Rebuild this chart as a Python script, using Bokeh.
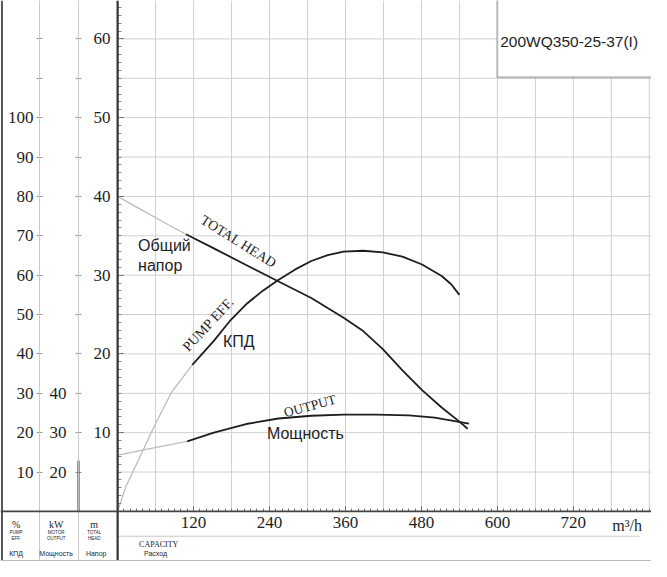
from bokeh.plotting import figure
from bokeh.models import Range1d, LinearAxis, FixedTicker, Span, Label, BoxAnnotation
from bokeh.embed import file_html
from bokeh.resources import INLINE
import math

# ---------------- data ----------------
head_q = [108, 152, 203, 252, 306, 357, 388, 419, 450, 481, 512, 540, 553]
head_m = [35.2, 33.4, 31.3, 29.3, 27.1, 24.6, 22.9, 20.6, 17.9, 15.4, 13.2, 11.4, 10.5]
head_ext_q = [0, 40, 80, 108]
head_ext_m = [40.0, 38.2, 36.4, 35.2]

eff_q = [118, 152, 177, 203, 229, 252, 280, 306, 332, 357, 388, 419, 450, 481, 512, 527, 540]
eff_pct = [37.2, 43.3, 48.3, 52.6, 56.0, 58.6, 61.4, 63.6, 65.1, 66.0, 66.2, 65.8, 64.7, 62.7, 59.8, 57.7, 55.0]
eff_ext_q = [0, 13, 41, 59, 85, 118]
eff_ext_pct = [0, 6.3, 15.8, 22.0, 30.2, 37.2]

out_q = [110, 152, 203, 254, 306, 357, 409, 460, 501, 537, 555]
out_kw = [27.8, 30.0, 32.2, 33.6, 34.3, 34.6, 34.6, 34.4, 33.8, 32.8, 32.3]
out_ext_q = [0, 55, 110]
out_ext_kw = [24.3, 26.1, 27.8]

q_labels = [120, 240, 360, 480, 600, 720]
q_minor = list(range(0, 841, 10))
head_labels = [10, 20, 30, 40, 50, 60]
head_minor = list(range(0, 65))
eff_labels = [10, 20, 30, 40, 50, 60, 70, 80, 90, 100]
eff_marks = [110, 120]
kw_labels = [20, 30, 40]
kw_marks = [50, 60, 70, 80, 90, 100, 110, 120, 130]
grid_q = list(range(60, 841, 60))
grid_head = list(range(5, 61, 5))
model_name = "200WQ350-25-37(I)"

# ---------------- layout ----------------
PX_Q = 0.6485      # ref px per m3/h
PX_H = 8.1         # ref px per m
X0 = -120 / PX_Q
X1 = (667 - 120) / PX_Q
Y0 = (525.5 - 577) / PX_H
Y1 = 525.5 / PX_H

def qx(px):
    return (px - 120) / PX_Q

def hy(py):
    return (525.5 - py) / PX_H

SERIF = "Liberation Serif"
SANS = "Liberation Sans"
DARK = "#1e1e1e"
GRID = "#cfcfcf"

p = figure(width=651, height=561, x_range=Range1d(X0, X1), y_range=Range1d(Y0, Y1),
           output_backend="svg", toolbar_location=None, min_border=0,
           x_axis_type=None, y_axis_type=None)
p.outline_line_color = None
p.background_fill_color = "white"
p.border_fill_color = "white"
p.extra_y_ranges = {
    "eff": Range1d(2 * Y0, 2 * Y1),
    "kw": Range1d(2 * Y0 + 10, 2 * Y1 + 10),
}

# grid lines
p.segment(x0=grid_q, y0=[0] * len(grid_q), x1=grid_q, y1=[Y1] * len(grid_q),
          line_color=GRID, line_width=1)
p.segment(x0=[0] * len(grid_head), y0=grid_head, x1=[X1] * len(grid_head), y1=grid_head,
          line_color=GRID, line_width=1)

# frame lines
for loc, w, c in [(qx(40), 1, "#c8c8c8"), (qx(80), 1, "#c8c8c8"), (0, 2.2, "#333333"), (qx(1.5), 2, "#555555")]:
    p.add_layout(Span(location=loc, dimension="height", line_color=c, line_width=w))
p.add_layout(Span(location=0, dimension="width", line_color="#444444", line_width=1.8))
p.add_layout(Span(location=hy(576), dimension="width", line_color="#bbbbbb", line_width=1))
p.segment(x0=[0], y0=[hy(551)], x1=[qx(655)], y1=[hy(551)], line_color="#c8c8c8", line_width=1)

# curves
FAINT = "#bdbdbd"
p.line(head_ext_q, head_ext_m, line_color=FAINT, line_width=1.3)
p.line(eff_ext_q, eff_ext_pct, line_color=FAINT, line_width=1.3, y_range_name="eff")
p.line(out_ext_q, out_ext_kw, line_color=FAINT, line_width=1.3, y_range_name="kw")
p.line(head_q, head_m, line_color=DARK, line_width=1.8, line_join="round")
p.line(eff_q, eff_pct, line_color=DARK, line_width=1.8, y_range_name="eff", line_join="round")
p.line(out_q, out_kw, line_color=DARK, line_width=1.8, y_range_name="kw", line_join="round")

def style_axis(ax, size="17px"):
    ax.major_label_text_font = SERIF
    ax.major_label_text_font_size = size
    ax.major_label_text_color = DARK
    ax.axis_line_color = None

# x axis
xa = LinearAxis(fixed_location=0, ticker=FixedTicker(ticks=q_labels, minor_ticks=q_minor))
style_axis(xa)
xa.major_tick_in = 5
xa.major_tick_out = 0
xa.minor_tick_in = 3
xa.minor_tick_out = 0
xa.major_tick_line_color = "#555555"
xa.minor_tick_line_color = "#777777"
xa.major_label_standoff = 6
p.add_layout(xa, "below")

# head axis
ha = LinearAxis(fixed_location=0, ticker=FixedTicker(ticks=head_labels, minor_ticks=head_minor))
style_axis(ha)
ha.major_tick_in = 6
ha.major_tick_out = 0
ha.minor_tick_in = 4
ha.minor_tick_out = 0
ha.major_tick_line_color = "#555555"
ha.minor_tick_line_color = "#888888"
ha.major_label_standoff = 7
p.add_layout(ha, "left")

# efficiency % axis
ea = LinearAxis(fixed_location=qx(40), y_range_name="eff",
                ticker=FixedTicker(ticks=eff_labels, minor_ticks=eff_marks))
style_axis(ea)
for a in ("major", "minor"):
    setattr(ea, a + "_tick_in", 3)
    setattr(ea, a + "_tick_out", 3)
    setattr(ea, a + "_tick_line_color", "#999999")
ea.major_label_standoff = 3
p.add_layout(ea, "left")

# kW axis
ka = LinearAxis(fixed_location=qx(80), y_range_name="kw",
                ticker=FixedTicker(ticks=kw_labels, minor_ticks=kw_marks))
style_axis(ka)
for a in ("major", "minor"):
    setattr(ka, a + "_tick_in", 3)
    setattr(ka, a + "_tick_out", 3)
    setattr(ka, a + "_tick_line_color", "#999999")
ka.major_label_standoff = 9
p.add_layout(ka, "left")

# kW axis dark stub
kb = LinearAxis(fixed_location=qx(80), y_range_name="kw", bounds=(10, 23),
                ticker=FixedTicker(ticks=[]))
kb.axis_line_color = "#333333"
kb.axis_line_width = 2
kb.major_label_text_font_size = "0px"
p.add_layout(kb, "left")

# model box
p.add_layout(BoxAnnotation(left=qx(509), right=X1 + 50, bottom=hy(79), top=Y1 + 10,
                           fill_color="white", fill_alpha=1.0, line_color="#333333", line_width=2))

def lab(px, py, text, font=SANS, size="16px", align="left", angle=0.0, baseline="middle"):
    p.add_layout(Label(x=qx(px), y=hy(py), text=text, text_font=font, text_font_size=size,
                       text_align=align, text_baseline=baseline, text_color=DARK,
                       angle=math.radians(angle)))

lab(512, 42, model_name, size="15.5px")

# curve annotations
lab(244, 248, "TOTAL HEAD", font=SERIF, size="14px", align="center", angle=-32)
lab(141, 252, "Общий")
lab(141, 273, "напор")
lab(213, 333, "PUMP EFF.", font=SERIF, size="14px", align="center", angle=47)
lab(228, 351, "КПД")
lab(317, 417, "OUTPUT", font=SERIF, size="13.5px", align="center", angle=15)
lab(273, 445, "Мощность")

# table texts
lab(642, 540, "m³/h", font=SERIF, size="16px", align="center")
lab(16, 539, "%", font=SERIF, size="10px", align="center")
lab(57, 539, "kW", font=SERIF, size="10px", align="center")
lab(96, 539, "m", font=SERIF, size="10px", align="center")
for cx, l1, l2 in [(16, "PUMP", "EFF."), (57, "MOTOR", "OUTPUT"), (96, "TOTAL", "HEAD")]:
    lab(cx, 547, l1, size="4.5px", align="center")
    lab(cx, 553, l2, size="4.5px", align="center")
lab(16, 569, "КПД", size="7px", align="center")
lab(57, 569, "Мощность", size="7px", align="center")
lab(98, 569, "Напор", size="7px", align="center")
lab(142, 560, "CAPACITY", font=SERIF, size="8px")
lab(147, 569, "Расход", size="7px")

open("out.html", "w").write(file_html(p, INLINE))
